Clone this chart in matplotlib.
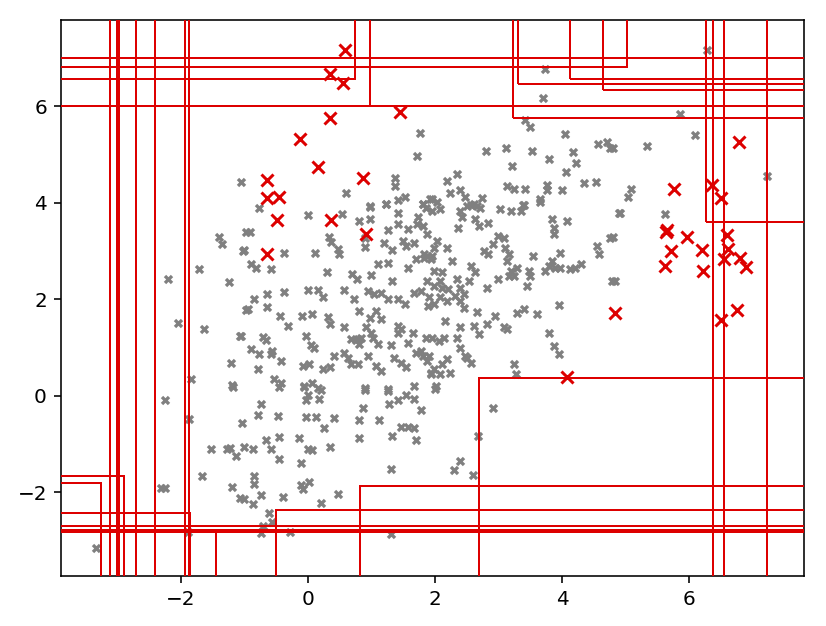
import numpy as np
import matplotlib
matplotlib.use("Agg")
import matplotlib.pyplot as plt
from matplotlib.patches import Rectangle

# inlier points
gray_points = [
    (1.76, 5.44), (1.72, 4.97), (1.37, 4.51), (1.37, 4.36), (0.60, 4.21), (1.52, 4.13),
    (1.41, 4.06), (0.97, 3.94), (1.23, 3.97), (1.81, 3.98), (1.92, 4.08), (-1.06, 4.44),
    (3.74, 6.77), (3.70, 6.18), (3.42, 5.72), (3.50, 5.58), (4.05, 5.43), (2.81, 5.08),
    (3.12, 5.14), (3.52, 5.08), (4.17, 5.06), (3.80, 4.90), (4.22, 4.82), (3.21, 4.76),
    (4.07, 4.65), (4.57, 5.22), (4.71, 5.26), (4.75, 5.13), (4.35, 4.41), (4.54, 4.43),
    (2.19, 4.46), (2.34, 4.60), (2.24, 4.21), (2.39, 4.27), (2.47, 4.13), (3.14, 4.36),
    (3.24, 4.28), (3.42, 4.29), (3.76, 4.37), (3.76, 4.27), (3.66, 4.08), (4.00, 4.26),
    (1.95, 4.08), (2.74, 4.10), (2.56, 3.96), (2.66, 3.94), (3.39, 3.96),
    (6.28, 7.16), (5.86, 5.85), (6.10, 5.40), (5.34, 5.17), (4.80, 5.13), (5.09, 4.28),
    (5.04, 4.13), (7.23, 4.56),
    (-1.40, 3.30), (-1.36, 3.14), (-1.02, 3.01), (-0.97, 3.39), (-1.71, 2.63), (-2.20, 2.43),
    (-1.25, 2.36), (-0.97, 1.78), (-2.05, 1.51), (-1.63, 1.38), (-1.07, 1.25), (-1.22, 0.68),
    (-1.84, 0.35), (-1.19, 0.23),
    (-2.25, -0.09), (-1.87, -0.48), (-1.04, -0.57), (-1.53, -1.10), (-1.28, -1.09),
    (-1.23, -1.08), (-1.14, -1.25), (-1.00, -1.06), (-1.67, -1.66), (-2.31, -1.90),
    (-2.25, -1.90), (-1.20, -1.89), (-1.07, -2.11), (-1.00, -2.13), (-1.89, -2.82),
    (-3.34, -3.16), (-1.18, 0.19),
    (-0.77, 3.89), (0.00, 3.75), (0.53, 3.78), (0.97, 3.92), (1.23, 3.97), (1.41, 3.80),
    (1.73, 3.70), (1.81, 3.97), (1.86, 3.90), (1.96, 3.83), (-0.92, 3.39), (-1.00, 3.02),
    (0.33, 3.30), (0.36, 3.18), (0.48, 3.04), (0.49, 2.94), (-0.37, 2.96), (0.11, 2.97),
    (0.89, 3.28), (0.90, 3.09), (0.81, 3.63), (0.97, 3.66), (1.41, 3.56), (1.26, 3.43),
    (1.57, 3.45), (1.72, 3.56), (1.81, 3.52), (1.20, 3.16), (1.33, 3.02), (1.49, 3.21),
    (1.54, 3.11), (1.67, 3.16), (1.82, 2.94), (1.88, 2.90), (1.96, 2.90), (-0.90, 2.73),
    (-0.82, 2.66), (-0.58, 2.63), (0.30, 2.56), (0.70, 2.52), (0.77, 2.42), (0.99, 2.51),
    (1.11, 2.73), (1.26, 2.76), (1.33, 2.38), (1.70, 2.83), (1.82, 2.85), (1.57, 2.66),
    (-0.64, 2.12), (-0.38, 2.16), (0.00, 2.19), (0.15, 2.19), (0.23, 2.04), (0.57, 2.19),
    (-0.85, 2.00), (-0.95, 1.80), (-0.64, 1.84), (0.73, 2.00), (0.94, 2.18), (1.04, 2.11),
    (1.15, 2.14), (1.26, 2.00), (1.41, 2.00), (1.52, 1.90), (1.67, 2.14), (1.78, 2.18),
    (1.89, 1.87), (0.81, 1.76), (1.07, 1.76), (0.97, 1.62), (1.15, 1.59), (1.41, 1.45),
    (1.46, 1.38), (-0.44, 1.66), (-0.09, 1.66), (0.07, 1.69), (0.31, 1.64), (0.35, 1.49),
    (-0.32, 1.45), (0.57, 1.43), (0.91, 1.42), (0.99, 1.31), (0.83, 1.21), (0.78, 1.17),
    (0.68, 1.17), (0.76, 1.15), (0.81, 1.07), (1.02, 1.21), (1.10, 1.07), (1.31, 1.06),
    (1.41, 1.31), (1.57, 1.10), (1.65, 1.31), (1.86, 1.21), (1.78, 0.93), (1.91, 0.83),
    (-1.06, 1.24), (-0.71, 1.22), (-0.66, 1.15), (-0.03, 1.24), (0.05, 1.06), (0.10, 1.00),
    (-0.90, 0.97), (-0.77, 0.86), (-0.56, 0.93), (-0.43, 0.73), (-0.58, 0.86), (0.41, 0.83),
    (0.57, 0.90), (0.63, 0.79), (0.68, 0.66), (0.78, 0.66), (0.94, 0.83), (1.07, 0.62),
    (1.15, 0.52), (1.36, 0.79), (1.46, 0.69), (1.54, 0.59), (1.70, 0.90), (1.81, 0.83),
    (-0.08, 0.62), (0.02, 0.66), (0.23, 0.55), (0.34, 0.59), (-0.79, 0.55), (-0.53, 0.35),
    (-0.43, 0.26), (-0.06, 0.21), (0.07, 0.26), (0.15, 0.17), (0.89, 0.17), (1.26, 0.14),
    (1.67, 0.21), (1.94, 0.48),
    (2.03, 4.01), (2.08, 3.87), (2.40, 3.83), (2.43, 3.70), (2.37, 3.49), (2.50, 3.94),
    (2.61, 3.97), (2.71, 3.90), (2.63, 3.66), (2.69, 3.52), (2.84, 3.59), (3.03, 3.87),
    (3.19, 3.83), (3.35, 3.83), (3.40, 3.95), (3.66, 4.01), (3.84, 3.66), (3.87, 3.49),
    (3.87, 3.35), (4.08, 3.62), (4.76, 3.28), (4.55, 3.11), (4.58, 2.94), (4.89, 3.80),
    (1.87, 3.35), (2.03, 3.21), (1.98, 3.07), (2.19, 3.07), (2.27, 2.80), (1.93, 2.83),
    (1.98, 2.59), (2.11, 2.56), (2.77, 3.01), (2.92, 3.14), (3.00, 3.32), (3.08, 3.28),
    (3.11, 3.07), (3.16, 2.94), (3.13, 2.80), (2.84, 2.94), (2.56, 2.69), (2.63, 2.56),
    (2.53, 2.38), (2.35, 2.42), (2.40, 2.24), (2.45, 2.11), (2.32, 2.07), (2.82, 2.23),
    (3.00, 2.42), (3.19, 2.59), (3.29, 2.66), (3.16, 2.49), (3.24, 2.49), (3.48, 2.59),
    (3.50, 2.49), (3.45, 2.28), (3.55, 2.90), (3.74, 2.59), (3.79, 2.69), (3.84, 2.80),
    (3.89, 2.66), (3.97, 2.97), (3.97, 2.66), (4.13, 2.63), (4.21, 2.66), (4.30, 2.73),
    (1.87, 2.38), (1.98, 2.28), (2.08, 2.38), (2.11, 2.24), (2.08, 2.04), (2.19, 1.97),
    (1.98, 1.90), (1.90, 2.04), (2.21, 2.21), (2.40, 1.97), (2.45, 1.83), (4.79, 2.38),
    (2.66, 1.73), (2.95, 1.66), (3.29, 1.71), (3.40, 1.80), (3.61, 1.69), (3.95, 1.89),
    (2.16, 1.55), (2.40, 1.43), (2.61, 1.45), (2.69, 1.28), (2.82, 1.49), (3.08, 1.42),
    (3.13, 1.38), (1.95, 1.21), (2.06, 1.14), (2.14, 1.21), (2.35, 1.21), (2.40, 1.00),
    (2.48, 0.83), (2.56, 0.69), (2.50, 0.79), (3.79, 1.31), (3.87, 1.04), (3.95, 0.86),
    (1.87, 0.73), (1.98, 0.55), (2.11, 0.66), (2.19, 0.76), (2.24, 0.48), (2.08, 0.45),
    (1.93, 0.45), (2.01, 0.21), (3.25, 0.66), (3.28, 0.46),
    (4.92, 3.80), (5.62, 3.78), (4.80, 3.30), (4.83, 2.38),
    (-0.45, 0.19), (-0.06, 0.19), (0.20, 0.12), (-0.03, -0.09), (0.00, 0.01), (0.18, -0.06),
    (-0.74, -0.17), (-0.79, -0.40), (-0.48, -0.41), (-0.03, -0.44), (0.13, -0.44),
    (0.41, -0.45), (0.26, -0.66), (0.89, 0.13), (0.86, -0.26), (0.81, -0.49), (1.26, 0.10),
    (1.28, -0.16), (1.41, -0.09), (1.54, 0.01), (1.67, -0.06), (1.78, -0.30), (1.12, -0.50),
    (1.46, -0.64), (1.57, -0.64), (1.67, -0.67), (1.33, -0.83), (1.70, -0.92), (0.81, -0.88),
    (-0.87, -1.09), (-0.66, -0.92), (-0.58, -1.09), (-0.45, -0.85), (-0.45, -1.30),
    (-0.14, -0.88), (0.00, -1.09), (0.07, -1.13), (0.34, -1.06), (-0.11, -1.39),
    (-0.85, -1.66), (-0.85, -1.82), (-0.11, -1.85), (0.02, -1.78), (-0.08, -1.92),
    (0.47, -2.04), (0.20, -2.22), (-0.87, -2.23), (-0.74, -2.06), (-0.40, -2.09),
    (-0.61, -2.42), (-0.56, -2.61), (-0.71, -2.70), (-0.74, -2.85), (-0.29, -2.82),
    (1.31, -1.52), (1.31, -2.87),
    (2.00, 0.15), (2.91, -0.26), (2.68, -0.82), (2.39, -1.35), (2.30, -1.54), (2.60, -1.63),
]

# outliers
red_x = [0.58, 0.34, 0.55, 0.34, 1.45, -0.12, 0.15, 0.86, -0.64, -0.64, -0.45,
         -0.49, 0.37, 0.91, -0.64, 4.83, 4.08, 6.79, 5.76, 6.36, 6.50,
         5.66, 5.64, 5.97, 5.72, 5.62, 6.21, 6.22, 6.60, 6.61, 6.55, 6.80, 6.90, 6.76, 6.51]
red_y = [7.16, 6.67, 6.49, 5.77, 5.88, 5.32, 4.75, 4.52, 4.48, 4.10, 4.13,
         3.65, 3.65, 3.36, 2.94, 1.71, 0.39, 5.26, 4.29, 4.37, 4.11,
         3.43, 3.40, 3.30, 3.00, 2.69, 3.03, 2.59, 3.34, 3.04, 2.83, 2.86, 2.67, 1.78, 1.58]

# isolating boxes, None = open side
box_x0 = [None, None, None, None, 3.23, 3.31, 4.13, 4.64, 6.26, 6.38, 6.55, 7.23,
          None, None, None, None, None, None, None, 2.70, 0.82, -0.50, None, None, None,
          None, None, None, -1.45, None]
box_x1 = [0.745, 0.976, None, 5.02, None, None, None, None, None, None, None, None,
          -3.12, -3.01, -2.97, -2.71, -2.41, -1.93, -1.87, None, None, None, None, None, None,
          -2.89, -3.26, -1.86, None, None]
box_y0 = [6.56, 6.01, 7.01, 6.81, 5.76, 6.46, 6.57, 6.34, 3.61, None, None, None,
          None, None, None, None, None, None, None, None, None, None, None, None, None,
          None, None, None, None, 6.01]
box_y1 = [None, None, None, None, None, None, None, None, None, None, None, None,
          None, None, None, None, None, None, None, 0.37, -1.87, -2.37, -2.70, -2.77, -2.83,
          -1.66, -1.80, -2.43, -2.81, None]

gx = np.array([p[0] for p in gray_points])
gy = np.array([p[1] for p in gray_points])

fig = plt.figure(figsize=(826 / 144, 626 / 144), dpi=144)
ax = fig.add_axes([0.0738, 0.080, 0.8995, 0.888])

ax.scatter(gx, gy, marker="X", s=22, color="gray", linewidths=0, zorder=2)
ax.scatter(red_x, red_y, marker="x", s=36, color="#dd0000", linewidths=1.5, zorder=3)

big = 100
for a, b, c, d in zip(box_x0, box_x1, box_y0, box_y1):
    a = -big if a is None else a
    b = big if b is None else b
    c = -big if c is None else c
    d = big if d is None else d
    ax.add_patch(Rectangle((a, c), b - a, d - c, fill=False, edgecolor="#dd0000",
                           linewidth=1.0, zorder=4))

ax.set_xlim(-3.89, 7.81)
ax.set_ylim(-3.73, 7.79)
ax.set_xticks([-2, 0, 2, 4, 6])
ax.set_yticks([-2, 0, 2, 4, 6])

fig.savefig("out.png", dpi=144)
